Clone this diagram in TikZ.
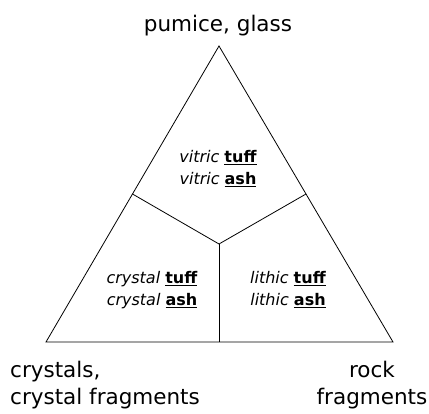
\documentclass[tikz,border=0pt]{standalone}
\usepackage{fontspec}
\setmainfont{DejaVu Sans}
\usetikzlibrary{positioning}
\tikzset{
  edge/.style={line width=0.8pt, line join=miter},
  corner/.style={inner sep=0pt, font=\fontsize{21.5}{27}\selectfont},
  field/.style={inner sep=0pt, align=center, font=\fontsize{16}{22}\selectfont}
}
\newcommand{\kind}[2]{\textit{#1} \underline{\textbf{#2}}}

\begin{document}
\begin{tikzpicture}[x=1pt, y=-1pt]
  \useasboundingbox (0,0) rectangle (429,414);

  % Triangle corners and inner division
  \coordinate (apex) at (219,46);
  \coordinate (lft) at (46,342);
  \coordinate (rgt) at (393,342);
  \coordinate (mid) at (219,244);
  \coordinate (midl) at (132.5,194);
  \coordinate (midr) at (306,194);
  \coordinate (midb) at (219,342);

  \draw[edge] (apex) -- (lft) -- (rgt) -- cycle;
  \draw[edge] (midl) -- (mid) -- (midr);
  \draw[edge] (mid) -- (midb);

  % Corner labels
  \node[corner, anchor=base] (glass) at (218,32) {pumice, glass};
  \node[corner, anchor=north west, align=left] (crystals) at (10,361) {crystals,\\crystal fragments};
  \node[corner, anchor=north, align=center] (rock) at (372,361) {rock\\fragments};

  % Fields
  \node[field] (vitric) at (218,169) {\kind{vitric}{tuff}\\\kind{vitric}{ash}};
  \node[field] (crystal) at (152,290) {\kind{crystal}{tuff}\\\kind{crystal}{ash}};
  \node[field] (lithic) at (288,290) {\kind{lithic}{tuff}\\\kind{lithic}{ash}};
\end{tikzpicture}
\end{document}
